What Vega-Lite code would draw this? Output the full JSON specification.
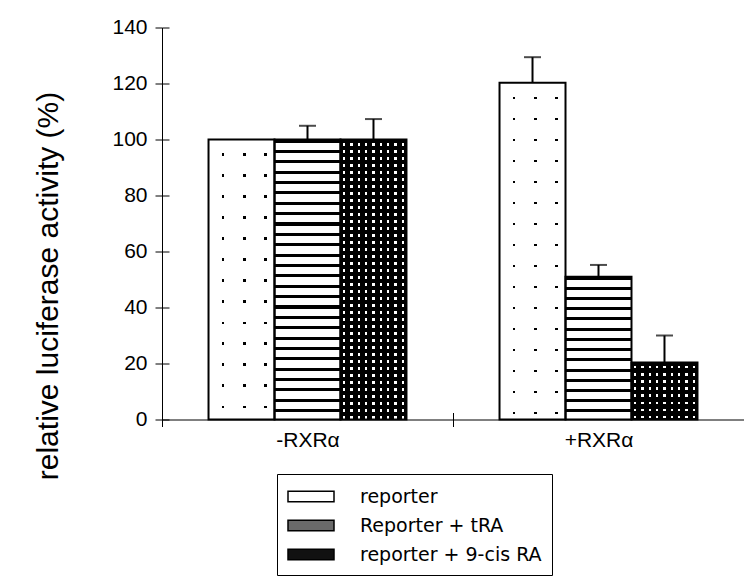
{
  "$schema": "https://vega.github.io/schema/vega-lite/v6.json",
  "width": 582,
  "height": 392,
  "autosize": {"type": "none"},
  "padding": {"left": 162, "top": 27.5, "right": 0, "bottom": 161.5},
  "background": "white",
  "config": {"view": {"stroke": null}, "font": "Liberation Sans"},
  "data": {
    "values": [
      {"group": "-RXRα", "series": "reporter", "value": 100, "top": null},
      {"group": "-RXRα", "series": "Reporter + tRA", "value": 100, "top": 104.9},
      {"group": "-RXRα", "series": "reporter + 9-cis RA", "value": 100, "top": 107.3},
      {"group": "+RXRα", "series": "reporter", "value": 120.3, "top": 129.4},
      {"group": "+RXRα", "series": "Reporter + tRA", "value": 51, "top": 55.2},
      {"group": "+RXRα", "series": "reporter + 9-cis RA", "value": 20.4, "top": 30}
    ]
  },
  "encoding": {
    "x": {
      "field": "group", "type": "nominal", "sort": ["-RXRα", "+RXRα"],
      "scale": {"paddingInner": 0, "paddingOuter": 0},
      "axis": {
        "title": null, "labelAngle": 0, "labelFontSize": 21, "labelColor": "black",
        "labelPadding": 3, "tickSize": 7, "tickColor": "black", "tickWidth": 1,
        "domainColor": "black", "domainWidth": 1, "tickBand": "extent",
        "grid": true, "gridColor": "black", "gridWidth": 1, "gridDash": [0, 385, 7, 1000]
      }
    },
    "xOffset": {
      "field": "series", "type": "nominal",
      "sort": ["reporter", "Reporter + tRA", "reporter + 9-cis RA"],
      "scale": {"paddingInner": 0, "paddingOuter": 0.705}
    },
    "y": {
      "field": "value", "type": "quantitative",
      "scale": {"domain": [0, 140], "nice": false},
      "axis": {
        "values": [0, 20, 40, 60, 80, 100, 120, 140],
        "title": "relative luciferase activity (%)",
        "titleFontSize": 30, "titleFontWeight": "normal", "titleColor": "black",
        "titleFont": "Liberation Sans", "titleAngle": -90, "titleAlign": "center",
        "titleBaseline": "middle", "titleX": -114, "titleY": 258,
        "labelFontSize": 21, "labelColor": "black", "labelPadding": 8,
        "tickSize": 7, "tickColor": "black", "tickWidth": 1,
        "domainColor": "black", "domainWidth": 1,
        "grid": true, "gridColor": "black", "gridWidth": 1, "gridDash": [7, 1000]
      }
    }
  },
  "layer": [
    {
      "mark": {"type": "bar", "strokeWidth": 0},
      "encoding": {
        "fill": {
          "field": "series", "type": "nominal",
          "sort": ["reporter", "Reporter + tRA", "reporter + 9-cis RA"],
          "scale": {"range": ["#ffffff", "#6a6a6a", "#111111"]},
          "legend": {
            "title": null, "orient": "none", "legendX": 115, "legendY": 446.5,
            "strokeColor": "black", "padding": 10,
            "symbolType": "M-2,-0.45H2V0.45H-2Z", "symbolSize": 529, "symbolOffset": 11.5,
            "symbolStrokeColor": "black", "symbolStrokeWidth": 1.5, "symbolOpacity": 1,
            "labelFont": "DejaVu Sans", "labelFontSize": 19, "labelColor": "black",
            "labelOffset": 36.5, "rowPadding": 6, "labelLimit": 400
          }
        }
      }
    },
    {
      "transform": [{"filter": "datum.series === 'Reporter + tRA' && datum.group === '-RXRα'"}],
      "mark": {"type": "bar", "strokeWidth": 0, "fill": {"gradient": "linear", "x1": 0, "y1": 0, "x2": 0, "y2": 1, "stops": [
        {"offset": 0, "color": "#000"}, {"offset": 0.011, "color": "#000"}, {"offset": 0.011, "color": "#fff"}, {"offset": 0.037, "color": "#fff"},
        {"offset": 0.037, "color": "#000"}, {"offset": 0.048, "color": "#000"}, {"offset": 0.048, "color": "#fff"}, {"offset": 0.0741, "color": "#fff"},
        {"offset": 0.0741, "color": "#000"}, {"offset": 0.0851, "color": "#000"}, {"offset": 0.0851, "color": "#fff"}, {"offset": 0.1111, "color": "#fff"},
        {"offset": 0.1111, "color": "#000"}, {"offset": 0.1221, "color": "#000"}, {"offset": 0.1221, "color": "#fff"}, {"offset": 0.1481, "color": "#fff"},
        {"offset": 0.1481, "color": "#000"}, {"offset": 0.1591, "color": "#000"}, {"offset": 0.1591, "color": "#fff"}, {"offset": 0.1852, "color": "#fff"},
        {"offset": 0.1852, "color": "#000"}, {"offset": 0.1962, "color": "#000"}, {"offset": 0.1962, "color": "#fff"}, {"offset": 0.2222, "color": "#fff"},
        {"offset": 0.2222, "color": "#000"}, {"offset": 0.2332, "color": "#000"}, {"offset": 0.2332, "color": "#fff"}, {"offset": 0.2593, "color": "#fff"},
        {"offset": 0.2593, "color": "#000"}, {"offset": 0.2703, "color": "#000"}, {"offset": 0.2703, "color": "#fff"}, {"offset": 0.2963, "color": "#fff"},
        {"offset": 0.2963, "color": "#000"}, {"offset": 0.3073, "color": "#000"}, {"offset": 0.3073, "color": "#fff"}, {"offset": 0.3333, "color": "#fff"},
        {"offset": 0.3333, "color": "#000"}, {"offset": 0.3443, "color": "#000"}, {"offset": 0.3443, "color": "#fff"}, {"offset": 0.3704, "color": "#fff"},
        {"offset": 0.3704, "color": "#000"}, {"offset": 0.3814, "color": "#000"}, {"offset": 0.3814, "color": "#fff"}, {"offset": 0.4074, "color": "#fff"},
        {"offset": 0.4074, "color": "#000"}, {"offset": 0.4184, "color": "#000"}, {"offset": 0.4184, "color": "#fff"}, {"offset": 0.4444, "color": "#fff"},
        {"offset": 0.4444, "color": "#000"}, {"offset": 0.4554, "color": "#000"}, {"offset": 0.4554, "color": "#fff"}, {"offset": 0.4815, "color": "#fff"},
        {"offset": 0.4815, "color": "#000"}, {"offset": 0.4925, "color": "#000"}, {"offset": 0.4925, "color": "#fff"}, {"offset": 0.5185, "color": "#fff"},
        {"offset": 0.5185, "color": "#000"}, {"offset": 0.5295, "color": "#000"}, {"offset": 0.5295, "color": "#fff"}, {"offset": 0.5556, "color": "#fff"},
        {"offset": 0.5556, "color": "#000"}, {"offset": 0.5666, "color": "#000"}, {"offset": 0.5666, "color": "#fff"}, {"offset": 0.5926, "color": "#fff"},
        {"offset": 0.5926, "color": "#000"}, {"offset": 0.6036, "color": "#000"}, {"offset": 0.6036, "color": "#fff"}, {"offset": 0.6296, "color": "#fff"},
        {"offset": 0.6296, "color": "#000"}, {"offset": 0.6406, "color": "#000"}, {"offset": 0.6406, "color": "#fff"}, {"offset": 0.6667, "color": "#fff"},
        {"offset": 0.6667, "color": "#000"}, {"offset": 0.6777, "color": "#000"}, {"offset": 0.6777, "color": "#fff"}, {"offset": 0.7037, "color": "#fff"},
        {"offset": 0.7037, "color": "#000"}, {"offset": 0.7147, "color": "#000"}, {"offset": 0.7147, "color": "#fff"}, {"offset": 0.7407, "color": "#fff"},
        {"offset": 0.7407, "color": "#000"}, {"offset": 0.7517, "color": "#000"}, {"offset": 0.7517, "color": "#fff"}, {"offset": 0.7778, "color": "#fff"},
        {"offset": 0.7778, "color": "#000"}, {"offset": 0.7888, "color": "#000"}, {"offset": 0.7888, "color": "#fff"}, {"offset": 0.8148, "color": "#fff"},
        {"offset": 0.8148, "color": "#000"}, {"offset": 0.8258, "color": "#000"}, {"offset": 0.8258, "color": "#fff"}, {"offset": 0.8519, "color": "#fff"},
        {"offset": 0.8519, "color": "#000"}, {"offset": 0.8629, "color": "#000"}, {"offset": 0.8629, "color": "#fff"}, {"offset": 0.8889, "color": "#fff"},
        {"offset": 0.8889, "color": "#000"}, {"offset": 0.8999, "color": "#000"}, {"offset": 0.8999, "color": "#fff"}, {"offset": 0.9259, "color": "#fff"},
        {"offset": 0.9259, "color": "#000"}, {"offset": 0.9369, "color": "#000"}, {"offset": 0.9369, "color": "#fff"}, {"offset": 0.963, "color": "#fff"},
        {"offset": 0.963, "color": "#000"}, {"offset": 0.974, "color": "#000"}, {"offset": 0.974, "color": "#fff"}, {"offset": 1, "color": "#fff"}
      ]}}
    },
    {
      "transform": [{"filter": "datum.series === 'Reporter + tRA' && datum.group === '+RXRα'"}],
      "mark": {"type": "bar", "strokeWidth": 0, "fill": {"gradient": "linear", "x1": 0, "y1": 0, "x2": 0, "y2": 1, "stops": [
        {"offset": 0, "color": "#000"}, {"offset": 0.021, "color": "#000"}, {"offset": 0.021, "color": "#fff"}, {"offset": 0.0714, "color": "#fff"},
        {"offset": 0.0714, "color": "#000"}, {"offset": 0.0924, "color": "#000"}, {"offset": 0.0924, "color": "#fff"}, {"offset": 0.1429, "color": "#fff"},
        {"offset": 0.1429, "color": "#000"}, {"offset": 0.1639, "color": "#000"}, {"offset": 0.1639, "color": "#fff"}, {"offset": 0.2143, "color": "#fff"},
        {"offset": 0.2143, "color": "#000"}, {"offset": 0.2353, "color": "#000"}, {"offset": 0.2353, "color": "#fff"}, {"offset": 0.2857, "color": "#fff"},
        {"offset": 0.2857, "color": "#000"}, {"offset": 0.3067, "color": "#000"}, {"offset": 0.3067, "color": "#fff"}, {"offset": 0.3571, "color": "#fff"},
        {"offset": 0.3571, "color": "#000"}, {"offset": 0.3781, "color": "#000"}, {"offset": 0.3781, "color": "#fff"}, {"offset": 0.4286, "color": "#fff"},
        {"offset": 0.4286, "color": "#000"}, {"offset": 0.4496, "color": "#000"}, {"offset": 0.4496, "color": "#fff"}, {"offset": 0.5, "color": "#fff"},
        {"offset": 0.5, "color": "#000"}, {"offset": 0.521, "color": "#000"}, {"offset": 0.521, "color": "#fff"}, {"offset": 0.5714, "color": "#fff"},
        {"offset": 0.5714, "color": "#000"}, {"offset": 0.5924, "color": "#000"}, {"offset": 0.5924, "color": "#fff"}, {"offset": 0.6429, "color": "#fff"},
        {"offset": 0.6429, "color": "#000"}, {"offset": 0.6639, "color": "#000"}, {"offset": 0.6639, "color": "#fff"}, {"offset": 0.7143, "color": "#fff"},
        {"offset": 0.7143, "color": "#000"}, {"offset": 0.7353, "color": "#000"}, {"offset": 0.7353, "color": "#fff"}, {"offset": 0.7857, "color": "#fff"},
        {"offset": 0.7857, "color": "#000"}, {"offset": 0.8067, "color": "#000"}, {"offset": 0.8067, "color": "#fff"}, {"offset": 0.8571, "color": "#fff"},
        {"offset": 0.8571, "color": "#000"}, {"offset": 0.8781, "color": "#000"}, {"offset": 0.8781, "color": "#fff"}, {"offset": 0.9286, "color": "#fff"},
        {"offset": 0.9286, "color": "#000"}, {"offset": 0.9496, "color": "#000"}, {"offset": 0.9496, "color": "#fff"}, {"offset": 1, "color": "#fff"}
      ]}}
    },
    {
      "transform": [{"filter": "datum.series === 'reporter' && datum.group === '-RXRα'"}],
      "mark": {"type": "bar", "strokeWidth": 0, "fill": {"gradient": "linear", "x1": 0, "y1": 0, "x2": 0, "y2": 1, "stops": [
        {"offset": 0, "color": "#fff"},
        {"offset": 0.05, "color": "#fff"}, {"offset": 0.05, "color": "#000"}, {"offset": 0.059, "color": "#000"}, {"offset": 0.059, "color": "#fff"},
        {"offset": 0.125, "color": "#fff"}, {"offset": 0.125, "color": "#000"}, {"offset": 0.134, "color": "#000"}, {"offset": 0.134, "color": "#fff"},
        {"offset": 0.2, "color": "#fff"}, {"offset": 0.2, "color": "#000"}, {"offset": 0.209, "color": "#000"}, {"offset": 0.209, "color": "#fff"},
        {"offset": 0.275, "color": "#fff"}, {"offset": 0.275, "color": "#000"}, {"offset": 0.284, "color": "#000"}, {"offset": 0.284, "color": "#fff"},
        {"offset": 0.35, "color": "#fff"}, {"offset": 0.35, "color": "#000"}, {"offset": 0.359, "color": "#000"}, {"offset": 0.359, "color": "#fff"},
        {"offset": 0.425, "color": "#fff"}, {"offset": 0.425, "color": "#000"}, {"offset": 0.434, "color": "#000"}, {"offset": 0.434, "color": "#fff"},
        {"offset": 0.5, "color": "#fff"}, {"offset": 0.5, "color": "#000"}, {"offset": 0.509, "color": "#000"}, {"offset": 0.509, "color": "#fff"},
        {"offset": 0.575, "color": "#fff"}, {"offset": 0.575, "color": "#000"}, {"offset": 0.584, "color": "#000"}, {"offset": 0.584, "color": "#fff"},
        {"offset": 0.65, "color": "#fff"}, {"offset": 0.65, "color": "#000"}, {"offset": 0.659, "color": "#000"}, {"offset": 0.659, "color": "#fff"},
        {"offset": 0.725, "color": "#fff"}, {"offset": 0.725, "color": "#000"}, {"offset": 0.734, "color": "#000"}, {"offset": 0.734, "color": "#fff"},
        {"offset": 0.8, "color": "#fff"}, {"offset": 0.8, "color": "#000"}, {"offset": 0.809, "color": "#000"}, {"offset": 0.809, "color": "#fff"},
        {"offset": 0.875, "color": "#fff"}, {"offset": 0.875, "color": "#000"}, {"offset": 0.884, "color": "#000"}, {"offset": 0.884, "color": "#fff"},
        {"offset": 0.95, "color": "#fff"}, {"offset": 0.95, "color": "#000"}, {"offset": 0.959, "color": "#000"}, {"offset": 0.959, "color": "#fff"},
        {"offset": 1, "color": "#fff"}
      ]}}
    },
    {
      "transform": [{"filter": "datum.series === 'reporter' && datum.group === '+RXRα'"}],
      "mark": {"type": "bar", "strokeWidth": 0, "fill": {"gradient": "linear", "x1": 0, "y1": 0, "x2": 0, "y2": 1, "stops": [
        {"offset": 0, "color": "#fff"},
        {"offset": 0.0416, "color": "#fff"}, {"offset": 0.0416, "color": "#000"}, {"offset": 0.049, "color": "#000"}, {"offset": 0.049, "color": "#fff"},
        {"offset": 0.104, "color": "#fff"}, {"offset": 0.104, "color": "#000"}, {"offset": 0.1114, "color": "#000"}, {"offset": 0.1114, "color": "#fff"},
        {"offset": 0.1664, "color": "#fff"}, {"offset": 0.1664, "color": "#000"}, {"offset": 0.1738, "color": "#000"}, {"offset": 0.1738, "color": "#fff"},
        {"offset": 0.2288, "color": "#fff"}, {"offset": 0.2288, "color": "#000"}, {"offset": 0.2362, "color": "#000"}, {"offset": 0.2362, "color": "#fff"},
        {"offset": 0.2912, "color": "#fff"}, {"offset": 0.2912, "color": "#000"}, {"offset": 0.2986, "color": "#000"}, {"offset": 0.2986, "color": "#fff"},
        {"offset": 0.3536, "color": "#fff"}, {"offset": 0.3536, "color": "#000"}, {"offset": 0.361, "color": "#000"}, {"offset": 0.361, "color": "#fff"},
        {"offset": 0.416, "color": "#fff"}, {"offset": 0.416, "color": "#000"}, {"offset": 0.4234, "color": "#000"}, {"offset": 0.4234, "color": "#fff"},
        {"offset": 0.4784, "color": "#fff"}, {"offset": 0.4784, "color": "#000"}, {"offset": 0.4858, "color": "#000"}, {"offset": 0.4858, "color": "#fff"},
        {"offset": 0.5408, "color": "#fff"}, {"offset": 0.5408, "color": "#000"}, {"offset": 0.5482, "color": "#000"}, {"offset": 0.5482, "color": "#fff"},
        {"offset": 0.6032, "color": "#fff"}, {"offset": 0.6032, "color": "#000"}, {"offset": 0.6106, "color": "#000"}, {"offset": 0.6106, "color": "#fff"},
        {"offset": 0.6656, "color": "#fff"}, {"offset": 0.6656, "color": "#000"}, {"offset": 0.673, "color": "#000"}, {"offset": 0.673, "color": "#fff"},
        {"offset": 0.728, "color": "#fff"}, {"offset": 0.728, "color": "#000"}, {"offset": 0.7354, "color": "#000"}, {"offset": 0.7354, "color": "#fff"},
        {"offset": 0.7904, "color": "#fff"}, {"offset": 0.7904, "color": "#000"}, {"offset": 0.7978, "color": "#000"}, {"offset": 0.7978, "color": "#fff"},
        {"offset": 0.8528, "color": "#fff"}, {"offset": 0.8528, "color": "#000"}, {"offset": 0.8602, "color": "#000"}, {"offset": 0.8602, "color": "#fff"},
        {"offset": 0.9152, "color": "#fff"}, {"offset": 0.9152, "color": "#000"}, {"offset": 0.9226, "color": "#000"}, {"offset": 0.9226, "color": "#fff"},
        {"offset": 0.9776, "color": "#fff"}, {"offset": 0.9776, "color": "#000"}, {"offset": 0.985, "color": "#000"}, {"offset": 0.985, "color": "#fff"},
        {"offset": 1, "color": "#fff"}
      ]}}
    },
    {
      "transform": [{"filter": "datum.series === 'reporter'"}],
      "mark": {"type": "bar", "strokeWidth": 0, "fill": {"gradient": "linear", "x1": 0, "y1": 0, "x2": 1, "y2": 0, "stops": [
        {"offset": 0, "color": "#fff"}, {"offset": 0.2, "color": "#fff"}, {"offset": 0.2, "color": "rgba(255,255,255,0)"}, {"offset": 0.235, "color": "rgba(255,255,255,0)"},
        {"offset": 0.235, "color": "#fff"}, {"offset": 0.528, "color": "#fff"}, {"offset": 0.528, "color": "rgba(255,255,255,0)"}, {"offset": 0.563, "color": "rgba(255,255,255,0)"},
        {"offset": 0.563, "color": "#fff"}, {"offset": 0.847, "color": "#fff"}, {"offset": 0.847, "color": "rgba(255,255,255,0)"}, {"offset": 0.882, "color": "rgba(255,255,255,0)"},
        {"offset": 0.882, "color": "#fff"}, {"offset": 1, "color": "#fff"}
      ]}}
    },
    {
      "transform": [{"filter": "datum.series === 'reporter + 9-cis RA' && datum.group === '-RXRα'"}],
      "mark": {"type": "bar", "strokeWidth": 0, "fill": {"gradient": "linear", "x1": 0, "y1": 0, "x2": 0, "y2": 1, "stops": [
        {"offset": 0, "color": "#000"},
        {"offset": 0.0125, "color": "#000"}, {"offset": 0.0125, "color": "#fff"}, {"offset": 0.0215, "color": "#fff"}, {"offset": 0.0215, "color": "#000"},
        {"offset": 0.0375, "color": "#000"}, {"offset": 0.0375, "color": "#fff"}, {"offset": 0.0465, "color": "#fff"}, {"offset": 0.0465, "color": "#000"},
        {"offset": 0.0625, "color": "#000"}, {"offset": 0.0625, "color": "#fff"}, {"offset": 0.0715, "color": "#fff"}, {"offset": 0.0715, "color": "#000"},
        {"offset": 0.0875, "color": "#000"}, {"offset": 0.0875, "color": "#fff"}, {"offset": 0.0965, "color": "#fff"}, {"offset": 0.0965, "color": "#000"},
        {"offset": 0.1125, "color": "#000"}, {"offset": 0.1125, "color": "#fff"}, {"offset": 0.1215, "color": "#fff"}, {"offset": 0.1215, "color": "#000"},
        {"offset": 0.1375, "color": "#000"}, {"offset": 0.1375, "color": "#fff"}, {"offset": 0.1465, "color": "#fff"}, {"offset": 0.1465, "color": "#000"},
        {"offset": 0.1625, "color": "#000"}, {"offset": 0.1625, "color": "#fff"}, {"offset": 0.1715, "color": "#fff"}, {"offset": 0.1715, "color": "#000"},
        {"offset": 0.1875, "color": "#000"}, {"offset": 0.1875, "color": "#fff"}, {"offset": 0.1965, "color": "#fff"}, {"offset": 0.1965, "color": "#000"},
        {"offset": 0.2125, "color": "#000"}, {"offset": 0.2125, "color": "#fff"}, {"offset": 0.2215, "color": "#fff"}, {"offset": 0.2215, "color": "#000"},
        {"offset": 0.2375, "color": "#000"}, {"offset": 0.2375, "color": "#fff"}, {"offset": 0.2465, "color": "#fff"}, {"offset": 0.2465, "color": "#000"},
        {"offset": 0.2625, "color": "#000"}, {"offset": 0.2625, "color": "#fff"}, {"offset": 0.2715, "color": "#fff"}, {"offset": 0.2715, "color": "#000"},
        {"offset": 0.2875, "color": "#000"}, {"offset": 0.2875, "color": "#fff"}, {"offset": 0.2965, "color": "#fff"}, {"offset": 0.2965, "color": "#000"},
        {"offset": 0.3125, "color": "#000"}, {"offset": 0.3125, "color": "#fff"}, {"offset": 0.3215, "color": "#fff"}, {"offset": 0.3215, "color": "#000"},
        {"offset": 0.3375, "color": "#000"}, {"offset": 0.3375, "color": "#fff"}, {"offset": 0.3465, "color": "#fff"}, {"offset": 0.3465, "color": "#000"},
        {"offset": 0.3625, "color": "#000"}, {"offset": 0.3625, "color": "#fff"}, {"offset": 0.3715, "color": "#fff"}, {"offset": 0.3715, "color": "#000"},
        {"offset": 0.3875, "color": "#000"}, {"offset": 0.3875, "color": "#fff"}, {"offset": 0.3965, "color": "#fff"}, {"offset": 0.3965, "color": "#000"},
        {"offset": 0.4125, "color": "#000"}, {"offset": 0.4125, "color": "#fff"}, {"offset": 0.4215, "color": "#fff"}, {"offset": 0.4215, "color": "#000"},
        {"offset": 0.4375, "color": "#000"}, {"offset": 0.4375, "color": "#fff"}, {"offset": 0.4465, "color": "#fff"}, {"offset": 0.4465, "color": "#000"},
        {"offset": 0.4625, "color": "#000"}, {"offset": 0.4625, "color": "#fff"}, {"offset": 0.4715, "color": "#fff"}, {"offset": 0.4715, "color": "#000"},
        {"offset": 0.4875, "color": "#000"}, {"offset": 0.4875, "color": "#fff"}, {"offset": 0.4965, "color": "#fff"}, {"offset": 0.4965, "color": "#000"},
        {"offset": 0.5125, "color": "#000"}, {"offset": 0.5125, "color": "#fff"}, {"offset": 0.5215, "color": "#fff"}, {"offset": 0.5215, "color": "#000"},
        {"offset": 0.5375, "color": "#000"}, {"offset": 0.5375, "color": "#fff"}, {"offset": 0.5465, "color": "#fff"}, {"offset": 0.5465, "color": "#000"},
        {"offset": 0.5625, "color": "#000"}, {"offset": 0.5625, "color": "#fff"}, {"offset": 0.5715, "color": "#fff"}, {"offset": 0.5715, "color": "#000"},
        {"offset": 0.5875, "color": "#000"}, {"offset": 0.5875, "color": "#fff"}, {"offset": 0.5965, "color": "#fff"}, {"offset": 0.5965, "color": "#000"},
        {"offset": 0.6125, "color": "#000"}, {"offset": 0.6125, "color": "#fff"}, {"offset": 0.6215, "color": "#fff"}, {"offset": 0.6215, "color": "#000"},
        {"offset": 0.6375, "color": "#000"}, {"offset": 0.6375, "color": "#fff"}, {"offset": 0.6465, "color": "#fff"}, {"offset": 0.6465, "color": "#000"},
        {"offset": 0.6625, "color": "#000"}, {"offset": 0.6625, "color": "#fff"}, {"offset": 0.6715, "color": "#fff"}, {"offset": 0.6715, "color": "#000"},
        {"offset": 0.6875, "color": "#000"}, {"offset": 0.6875, "color": "#fff"}, {"offset": 0.6965, "color": "#fff"}, {"offset": 0.6965, "color": "#000"},
        {"offset": 0.7125, "color": "#000"}, {"offset": 0.7125, "color": "#fff"}, {"offset": 0.7215, "color": "#fff"}, {"offset": 0.7215, "color": "#000"},
        {"offset": 0.7375, "color": "#000"}, {"offset": 0.7375, "color": "#fff"}, {"offset": 0.7465, "color": "#fff"}, {"offset": 0.7465, "color": "#000"},
        {"offset": 0.7625, "color": "#000"}, {"offset": 0.7625, "color": "#fff"}, {"offset": 0.7715, "color": "#fff"}, {"offset": 0.7715, "color": "#000"},
        {"offset": 0.7875, "color": "#000"}, {"offset": 0.7875, "color": "#fff"}, {"offset": 0.7965, "color": "#fff"}, {"offset": 0.7965, "color": "#000"},
        {"offset": 0.8125, "color": "#000"}, {"offset": 0.8125, "color": "#fff"}, {"offset": 0.8215, "color": "#fff"}, {"offset": 0.8215, "color": "#000"},
        {"offset": 0.8375, "color": "#000"}, {"offset": 0.8375, "color": "#fff"}, {"offset": 0.8465, "color": "#fff"}, {"offset": 0.8465, "color": "#000"},
        {"offset": 0.8625, "color": "#000"}, {"offset": 0.8625, "color": "#fff"}, {"offset": 0.8715, "color": "#fff"}, {"offset": 0.8715, "color": "#000"},
        {"offset": 0.8875, "color": "#000"}, {"offset": 0.8875, "color": "#fff"}, {"offset": 0.8965, "color": "#fff"}, {"offset": 0.8965, "color": "#000"},
        {"offset": 0.9125, "color": "#000"}, {"offset": 0.9125, "color": "#fff"}, {"offset": 0.9215, "color": "#fff"}, {"offset": 0.9215, "color": "#000"},
        {"offset": 0.9375, "color": "#000"}, {"offset": 0.9375, "color": "#fff"}, {"offset": 0.9465, "color": "#fff"}, {"offset": 0.9465, "color": "#000"},
        {"offset": 0.9625, "color": "#000"}, {"offset": 0.9625, "color": "#fff"}, {"offset": 0.9715, "color": "#fff"}, {"offset": 0.9715, "color": "#000"},
        {"offset": 0.9875, "color": "#000"}, {"offset": 0.9875, "color": "#fff"}, {"offset": 0.9965, "color": "#fff"}, {"offset": 0.9965, "color": "#000"},
        {"offset": 1, "color": "#000"}
      ]}}
    },
    {
      "transform": [{"filter": "datum.series === 'reporter + 9-cis RA' && datum.group === '+RXRα'"}],
      "mark": {"type": "bar", "strokeWidth": 0, "fill": {"gradient": "linear", "x1": 0, "y1": 0, "x2": 0, "y2": 1, "stops": [
        {"offset": 0, "color": "#000"},
        {"offset": 0.0613, "color": "#000"}, {"offset": 0.0613, "color": "#fff"}, {"offset": 0.1053, "color": "#fff"}, {"offset": 0.1053, "color": "#000"},
        {"offset": 0.1863, "color": "#000"}, {"offset": 0.1863, "color": "#fff"}, {"offset": 0.2303, "color": "#fff"}, {"offset": 0.2303, "color": "#000"},
        {"offset": 0.3113, "color": "#000"}, {"offset": 0.3113, "color": "#fff"}, {"offset": 0.3553, "color": "#fff"}, {"offset": 0.3553, "color": "#000"},
        {"offset": 0.4363, "color": "#000"}, {"offset": 0.4363, "color": "#fff"}, {"offset": 0.4803, "color": "#fff"}, {"offset": 0.4803, "color": "#000"},
        {"offset": 0.5613, "color": "#000"}, {"offset": 0.5613, "color": "#fff"}, {"offset": 0.6053, "color": "#fff"}, {"offset": 0.6053, "color": "#000"},
        {"offset": 0.6863, "color": "#000"}, {"offset": 0.6863, "color": "#fff"}, {"offset": 0.7303, "color": "#fff"}, {"offset": 0.7303, "color": "#000"},
        {"offset": 0.8113, "color": "#000"}, {"offset": 0.8113, "color": "#fff"}, {"offset": 0.8553, "color": "#fff"}, {"offset": 0.8553, "color": "#000"},
        {"offset": 0.9363, "color": "#000"}, {"offset": 0.9363, "color": "#fff"}, {"offset": 0.9803, "color": "#fff"}, {"offset": 0.9803, "color": "#000"},
        {"offset": 1, "color": "#000"}
      ]}}
    },
    {
      "transform": [{"filter": "datum.series === 'reporter + 9-cis RA'"}],
      "mark": {"type": "bar", "strokeWidth": 0, "fill": {"gradient": "linear", "x1": 0, "y1": 0, "x2": 1, "y2": 0, "stops": [
        {"offset": 0, "color": "#000"},
        {"offset": 0.0366, "color": "#000"}, {"offset": 0.0366, "color": "rgba(0,0,0,0)"}, {"offset": 0.0746, "color": "rgba(0,0,0,0)"}, {"offset": 0.0746, "color": "#000"},
        {"offset": 0.1476, "color": "#000"}, {"offset": 0.1476, "color": "rgba(0,0,0,0)"}, {"offset": 0.1856, "color": "rgba(0,0,0,0)"}, {"offset": 0.1856, "color": "#000"},
        {"offset": 0.2586, "color": "#000"}, {"offset": 0.2586, "color": "rgba(0,0,0,0)"}, {"offset": 0.2966, "color": "rgba(0,0,0,0)"}, {"offset": 0.2966, "color": "#000"},
        {"offset": 0.3696, "color": "#000"}, {"offset": 0.3696, "color": "rgba(0,0,0,0)"}, {"offset": 0.4076, "color": "rgba(0,0,0,0)"}, {"offset": 0.4076, "color": "#000"},
        {"offset": 0.4806, "color": "#000"}, {"offset": 0.4806, "color": "rgba(0,0,0,0)"}, {"offset": 0.5186, "color": "rgba(0,0,0,0)"}, {"offset": 0.5186, "color": "#000"},
        {"offset": 0.5916, "color": "#000"}, {"offset": 0.5916, "color": "rgba(0,0,0,0)"}, {"offset": 0.6296, "color": "rgba(0,0,0,0)"}, {"offset": 0.6296, "color": "#000"},
        {"offset": 0.7026, "color": "#000"}, {"offset": 0.7026, "color": "rgba(0,0,0,0)"}, {"offset": 0.7406, "color": "rgba(0,0,0,0)"}, {"offset": 0.7406, "color": "#000"},
        {"offset": 0.8136, "color": "#000"}, {"offset": 0.8136, "color": "rgba(0,0,0,0)"}, {"offset": 0.8516, "color": "rgba(0,0,0,0)"}, {"offset": 0.8516, "color": "#000"},
        {"offset": 0.9246, "color": "#000"}, {"offset": 0.9246, "color": "rgba(0,0,0,0)"}, {"offset": 0.9626, "color": "rgba(0,0,0,0)"}, {"offset": 0.9626, "color": "#000"},
        {"offset": 1, "color": "#000"}
      ]}}
    },
    {
      "mark": {"type": "bar", "fill": "white", "fillOpacity": 0, "stroke": "black", "strokeWidth": 2}
    },
    {
      "mark": {"type": "rule", "color": "black", "strokeWidth": 2},
      "encoding": {
        "y": {"field": "value", "type": "quantitative"},
        "y2": {"field": "top"}
      }
    },
    {
      "mark": {"type": "tick", "color": "black", "thickness": 2, "size": 17},
      "encoding": {"y": {"field": "top", "type": "quantitative"}}
    }
  ]
}
